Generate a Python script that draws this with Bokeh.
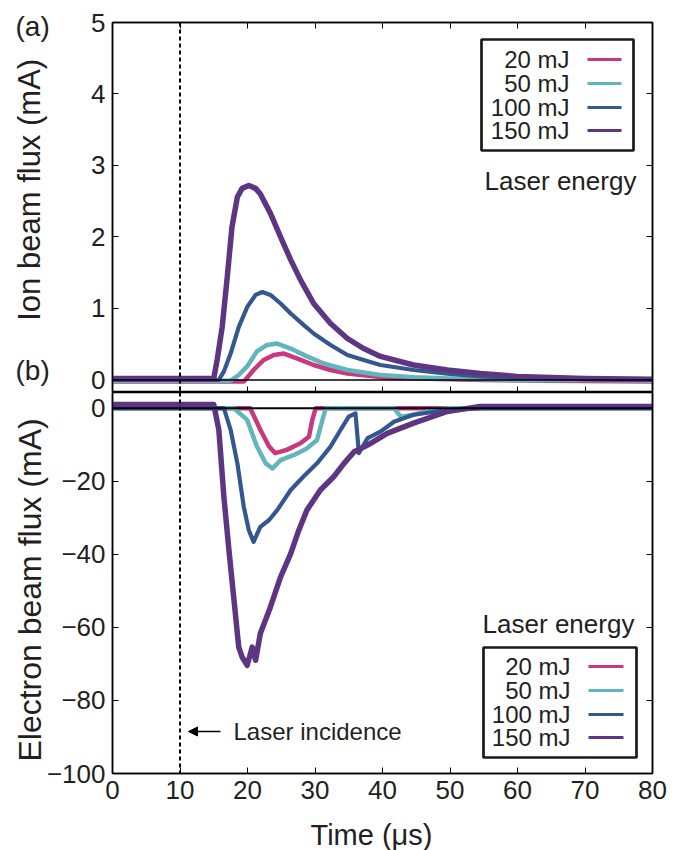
from math import pi
from bokeh.plotting import figure
from bokeh.layouts import column
from bokeh.models import (Span, Label, BoxAnnotation, Arrow, NormalHead,
                          LinearAxis, FixedTicker, Range1d)
from bokeh.embed import file_html
from bokeh.resources import INLINE

# ---------------- data ----------------
energies = ["20 mJ", "50 mJ", "100 mJ", "150 mJ"]
colors = ["#c8387f", "#62b5bd", "#34578f", "#5e3583"]

# (a) ion beam flux, mA
ion_t_20 = [0, 19.5, 20.9, 22.4, 23.9, 25.4, 27.4, 29.8, 32.3, 34.8, 39.7, 45, 55, 65, 80]
ion_v_20 = [-0.02, -0.02, 0.14, 0.28, 0.35, 0.37, 0.30, 0.21, 0.14, 0.09, 0.04, 0.02, 0.0, -0.01, -0.02]
ion_t_50 = [0, 17.5, 18.7, 19.95, 21.4, 22.9, 24.4, 26.4, 28.8, 31.3, 34.8, 39.7, 44.6, 50, 60, 70, 80]
ion_v_50 = [-0.01, -0.01, 0.07, 0.19, 0.40, 0.49, 0.51, 0.44, 0.33, 0.23, 0.14, 0.07, 0.04, 0.02, 0.0, 0.0, -0.01]
ion_t_100 = [0, 15.75, 16.5, 17.5, 18.7, 19.95, 21.2, 22.2, 23.4, 24.9, 26.4, 28.3, 29.8, 32.3,
             34.8, 37.2, 39.7, 44.6, 49.6, 54.5, 60, 70, 80]
ion_v_100 = [0.0, 0.0, 0.12, 0.37, 0.74, 1.02, 1.19, 1.23, 1.19, 1.07, 0.93, 0.77, 0.65, 0.49,
             0.35, 0.28, 0.21, 0.14, 0.09, 0.05, 0.03, 0.01, 0.0]
ion_t_150 = [0, 15.0, 15.5, 16.25, 17.0, 17.7, 18.5, 19.2, 20.2, 21.2, 21.9, 23.4, 24.9, 26.4,
             27.85, 29.8, 32.3, 34.8, 37.2, 39.7, 44.6, 49.6, 54.5, 60, 70, 80]
ion_v_150 = [0.02, 0.02, 0.28, 0.74, 1.44, 2.14, 2.56, 2.68, 2.72, 2.68, 2.60, 2.33, 2.00, 1.68,
             1.40, 1.07, 0.79, 0.58, 0.44, 0.33, 0.21, 0.14, 0.09, 0.05, 0.02, 0.01]

# (b) electron beam flux, mA
el_t_20 = [0, 20.4, 21.9, 23.2, 24.1, 25.8, 27.85, 29.1, 29.6, 30.1, 80]
el_v_20 = [0, 0, -5.9, -10.5, -12.3, -11.4, -9.6, -7.8, -3.2, 0, 0]
el_t_50 = [0, 18.0, 19.95, 21.4, 22.7, 23.7, 24.9, 26.9, 28.8, 30.3, 31.1, 31.6, 41.7, 42.7,
           44.6, 47.4, 50, 80]
el_v_50 = [0, 0, -3.2, -10.5, -15.1, -16.5, -14.2, -12.8, -11.0, -8.7, -3.2, 0, 0, -2.3,
           -1.8, -0.5, 0, 0]
el_t_100 = [0, 16.5, 17.5, 18.5, 19.45, 20.2, 20.9, 21.9, 23.2, 24.4, 26.4, 28.3, 30.3, 32.3,
            33.8, 35.0, 36.0, 36.5, 37.8, 39.7, 41.7, 44.6, 49.6, 55, 80]
el_v_100 = [0, 0, -5.9, -15.1, -27.0, -33.4, -36.6, -32.5, -30.6, -27.9, -22.4, -18.7, -15.1,
            -10.5, -5.9, -2.3, -1.4, -12.3, -8.2, -6.4, -3.7, -1.8, -0.5, 0, 0]
el_t_150 = [0, 15.0, 15.75, 16.5, 17.2, 17.7, 18.2, 18.7, 19.2, 19.95, 20.7, 21.2, 21.9, 23.4,
            24.9, 26.4, 27.6, 28.8, 30.8, 32.8, 34.3, 35.8, 37.8, 40.7, 44.6, 49.6, 54.5, 60,
            70, 80]
el_v_150 = [1.0, 1.0, -5.9, -24.2, -37.9, -47.1, -56.2, -65.4, -68.1, -70.4, -65.4, -69.0,
            -61.7, -54.4, -46.2, -39.8, -33.4, -27.9, -22.4, -18.7, -15.1, -11.9, -10.1, -6.9,
            -4.1, -0.9, 0.5, 0.5, 0.5, 0.5]

x_ticks = [0, 10, 20, 30, 40, 50, 60, 70, 80]
ion_ticks = [0, 1, 2, 3, 4, 5]
el_ticks = [-100, -80, -60, -40, -20, 0]
el_tick_labels = {-100: "\u2212100", -80: "\u221280", -60: "\u221260",
                  -40: "\u221240", -20: "\u221220", 0: "0"}
laser_time = 10

ion_series = [(ion_t_20, ion_v_20), (ion_t_50, ion_v_50), (ion_t_100, ion_v_100), (ion_t_150, ion_v_150)]
el_series = [(el_t_20, el_v_20), (el_t_50, el_v_50), (el_t_100, el_v_100), (el_t_150, el_v_150)]
widths = [4.5, 4.5, 4.2, 5.5]

FONT = "Liberation Sans"
TXT = "#231f20"

# layout geometry (canvas pixels)
X_MIN, X_MAX = 0, 80
FRAME_L, FRAME_R = 112, 652
ION_RANGE = (-0.175, 5)
EL_RANGE = (-100, 4.3)
TOP_FRAME = (22, 392)     # top, bottom of panel (a) frame on the canvas
BOT_FRAME = (392, 773)    # top, bottom of panel (b) frame on the canvas


def px_to_x(px):
    return X_MIN + (px - FRAME_L) * (X_MAX - X_MIN) / (FRAME_R - FRAME_L)


def px_to_y(py, rng, frame):
    top, bottom = frame
    return rng[0] + (bottom - py) * (rng[1] - rng[0]) / (bottom - top)


def style_axis(ax, ticks, labels=True, overrides=None):
    ax.ticker = FixedTicker(ticks=ticks)
    ax.major_tick_in = 6
    ax.major_tick_out = 0
    ax.minor_tick_line_color = None
    ax.axis_line_width = 1.5
    ax.axis_line_color = "black"
    ax.major_tick_line_color = "black"
    ax.major_label_text_font = FONT
    ax.major_label_text_color = TXT
    ax.major_label_text_font_size = "26px"
    ax.major_label_standoff = 7
    if overrides:
        ax.major_label_overrides = overrides
    if not labels:
        ax.major_label_text_font_size = "0px"
        ax.major_label_standoff = 0


def base_fig(height, y_range, **kw):
    p = figure(width=687, height=height, x_range=xr, y_range=y_range,
               output_backend="svg", toolbar_location=None,
               min_border_left=FRAME_L, min_border_right=687 - FRAME_R, **kw)
    p.grid.visible = False
    p.outline_line_color = "black"
    p.outline_line_width = 1.5
    p.background_fill_color = "white"
    p.border_fill_color = "white"
    return p


def legend(p, box, rows, text_x, line_x, title_xy):
    # box = (left, right, top, bottom) in frame screen px
    p.add_layout(BoxAnnotation(left=box[0], right=box[1], top=box[2], bottom=box[3],
                               left_units="screen", right_units="screen",
                               top_units="screen", bottom_units="screen",
                               fill_alpha=0, line_color="#1a1a1a", line_alpha=1,
                               line_width=2.7))
    for name, col, y in zip(energies, colors, rows):
        p.add_layout(Label(x=text_x, y=y, x_units="screen", y_units="screen", text=name,
                           text_align="right", text_baseline="middle", text_font=FONT,
                           text_font_size="24px", text_color=TXT))
        p.add_layout(BoxAnnotation(left=line_x[0], right=line_x[1], top=y + 1.6, bottom=y - 1.6,
                                   left_units="screen", right_units="screen",
                                   top_units="screen", bottom_units="screen",
                                   fill_color=col, fill_alpha=1, line_alpha=0))
    p.add_layout(Label(x=title_xy[0], y=title_xy[1], x_units="screen", y_units="screen",
                       text="Laser energy", text_align="center", text_baseline="middle",
                       text_font=FONT, text_font_size="26px", text_color=TXT))


def side_label(p, side, text, px, py, rng, frame, **kw):
    # text outside the frame: placed in data units, hosted in a side panel
    p.add_layout(Label(x=px_to_x(px), y=px_to_y(py, rng, frame), text=text,
                       text_font=FONT, text_color=TXT, **kw), side)


xr = Range1d(X_MIN, X_MAX)

# ---------------- (a) ion panel ----------------
p1 = base_fig(TOP_FRAME[1], Range1d(*ION_RANGE), min_border_top=TOP_FRAME[0], min_border_bottom=0)
style_axis(p1.xaxis[0], x_ticks, labels=False)
style_axis(p1.yaxis[0], ion_ticks)
ax_top = LinearAxis()
style_axis(ax_top, x_ticks, labels=False)
p1.add_layout(ax_top, "above")
ax_r1 = LinearAxis()
style_axis(ax_r1, ion_ticks, labels=False)
p1.add_layout(ax_r1, "right")

p1.add_layout(Span(location=0, dimension="width", line_color="black", line_width=1.5))
for (t, v), c, w in zip(ion_series, colors, widths):
    p1.line(t, v, line_color=c, line_width=w, line_join="round")
p1.add_layout(Span(location=laser_time, dimension="height", line_color="black",
                   line_width=2, line_dash="4 3"))
legend(p1, (369, 521, 353, 242), [333, 309, 285, 262], 457, (475, 509), (448, 212))
side_label(p1, "left", "(a)", 15, 25.5, ION_RANGE, TOP_FRAME, text_baseline="middle",
           text_font_size="28px")
side_label(p1, "right", "(b)", 15, 369.5, ION_RANGE, TOP_FRAME, text_baseline="middle",
           text_font_size="28px")
side_label(p1, "left", "Ion beam  flux (mA)", 29, 185, ION_RANGE, TOP_FRAME, angle=pi / 2,
           text_align="center", text_baseline="middle", text_font_size="31px")

# ---------------- (b) electron panel ----------------
p2 = base_fig(850 - BOT_FRAME[0], Range1d(*EL_RANGE), min_border_top=0,
              min_border_bottom=850 - BOT_FRAME[1])
style_axis(p2.xaxis[0], x_ticks)
style_axis(p2.yaxis[0], el_ticks, overrides=el_tick_labels)
ax_r2 = LinearAxis()
style_axis(ax_r2, el_ticks, labels=False)
p2.add_layout(ax_r2, "right")

p2.add_layout(Span(location=0, dimension="width", line_color="black", line_width=2))
for (t, v), c, w in zip(el_series, colors, widths):
    p2.line(t, v, line_color=c, line_width=w, line_join="round")
p2.add_layout(Span(location=laser_time, dimension="height", line_color="black",
                   line_width=2, line_dash="4 3"))
legend(p2, (371, 524, 126, 16), [107, 83, 59, 36], 458, (476, 511), (446, 150))
p2.add_layout(Arrow(x_start=108, y_start=42, x_end=76, y_end=42,
                    start_units="screen", end_units="screen", line_width=1.5,
                    end=NormalHead(size=9, fill_color="black", line_color="black")))
p2.add_layout(Label(x=121, y=42, x_units="screen", y_units="screen", text="Laser incidence",
                    text_baseline="middle", text_font=FONT, text_font_size="24px", text_color=TXT))
side_label(p2, "left", "Electron beam  flux (mA)", 29, 585, EL_RANGE, BOT_FRAME, angle=pi / 2,
           text_align="center", text_baseline="middle", text_font_size="32px")
side_label(p2, "below", "Time (\u03bcs)", 371, 834, EL_RANGE, BOT_FRAME,
           text_align="center", text_baseline="middle", text_font_size="29px")

layout = column(p1, p2, spacing=0)
open("out.html", "w").write(file_html(layout, INLINE))
